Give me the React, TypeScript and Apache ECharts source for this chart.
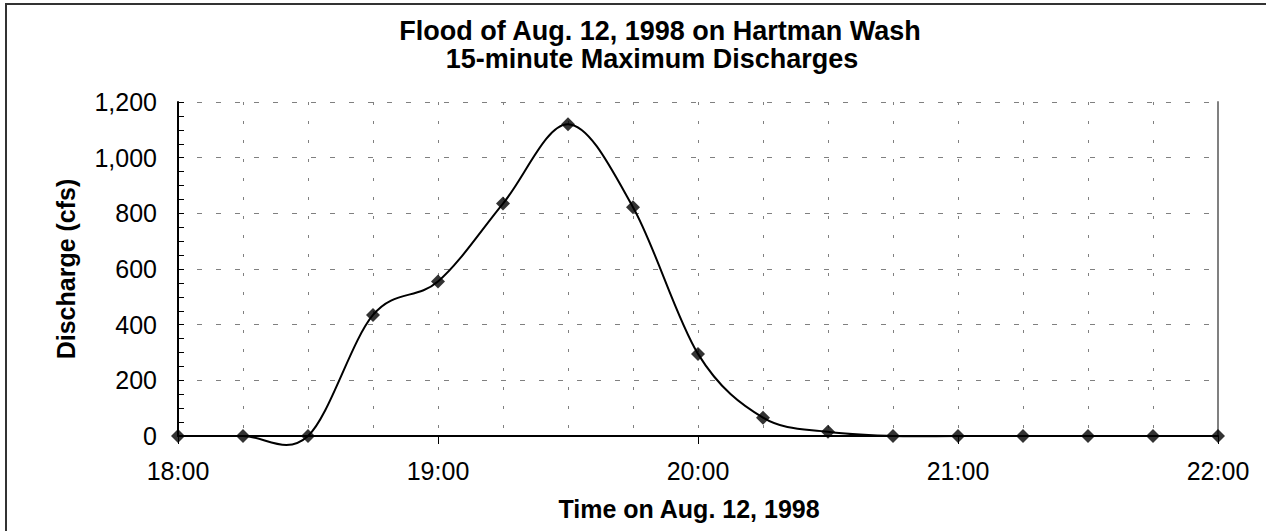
import React, { useEffect, useRef } from "react";
import * as echarts from "echarts";

const titleLines = ["Flood of Aug. 12, 1998 on Hartman Wash", "15-minute Maximum Discharges"];
const xAxisTitle = "Time on Aug. 12, 1998";
const yAxisTitle = "Discharge (cfs)";
const times = ["18:00", "18:15", "18:30", "18:45", "19:00", "19:15", "19:30", "19:45", "20:00", "20:15", "20:30", "20:45", "21:00", "21:15", "21:30", "21:45", "22:00"];
const discharge = [0, 0, 0, 435, 555, 835, 1120, 822, 295, 66, 15, 0, 0, 0, 0, 0, 0];
const yTicks = { min: 0, max: 1200, interval: 200 };
const startHour = 18;
const endHour = 22;

const FONT = "'Liberation Sans', Arial, sans-serif";

function toMinutes(t: string): number {
  const [h, m] = t.split(":").map(Number);
  return (h - startHour) * 60 + m;
}

export default function App() {
  const ref = useRef<HTMLDivElement>(null);
  useEffect(() => {
    if (!ref.current) return;
    const chart = echarts.init(ref.current, null, { renderer: "svg" });
    const pts = times.map((t, i) => [toMinutes(t), discharge[i]]);

    const renderCurve = (params: any, api: any) => {
      if (params.dataIndex !== 0) return null;
      const p = pts.map((d) => api.coord(d));
      const n = p.length;
      let d = `M${p[0][0]},${p[0][1]}`;
      for (let i = 0; i < n - 1; i++) {
        const p0 = p[Math.max(i - 1, 0)];
        const p1 = p[i];
        const p2 = p[i + 1];
        const p3 = p[Math.min(i + 2, n - 1)];
        const c1x = p1[0] + (p2[0] - p0[0]) / 6;
        const c1y = p1[1] + (p2[1] - p0[1]) / 6;
        const c2x = p2[0] - (p3[0] - p1[0]) / 6;
        const c2y = p2[1] - (p3[1] - p1[1]) / 6;
        d += ` C${c1x},${c1y} ${c2x},${c2y} ${p2[0]},${p2[1]}`;
      }
      return {
        type: "path",
        shape: { pathData: d },
        style: { stroke: "#000", lineWidth: 2, fill: null },
        silent: true,
      };
    };

    const titleStyle = { fontFamily: FONT, fontSize: 27, fontWeight: "bold", color: "#000", lineHeight: 27 };

    chart.setOption({
      animation: false,
      backgroundColor: "#fff",
      title: [
        { text: titleLines[0], left: 660, top: 17, textAlign: "center", padding: 0, textStyle: titleStyle },
        { text: titleLines[1], left: 652, top: 45, textAlign: "center", padding: 0, textStyle: titleStyle },
      ],
      grid: { left: 178, right: 48, top: 102, bottom: 95, containLabel: false },
      xAxis: {
        type: "value",
        min: 0,
        max: (endHour - startHour) * 60,
        interval: 60,
        name: xAxisTitle,
        nameLocation: "middle",
        nameGap: 60,
        nameTextStyle: { fontFamily: FONT, fontSize: 25, fontWeight: "bold", color: "#000", padding: [0, 18, 0, 0] },
        axisLine: { onZero: false, lineStyle: { color: "#000", width: 2 } },
        axisTick: { show: true, length: 8, lineStyle: { color: "#000", width: 1 } },
        axisLabel: {
          margin: 22,
          fontFamily: FONT,
          fontSize: 25,
          color: "#000",
          formatter: (v: number) => `${startHour + v / 60}:00`,
        },
        splitLine: { show: true, lineStyle: { color: "#808080", width: 1, type: [3, 16] } },
        minorTick: { show: false, splitNumber: 4 },
        minorSplitLine: { show: true, lineStyle: { color: "#808080", width: 1, type: [3, 16] } },
      },
      yAxis: [
        {
          type: "value",
          min: yTicks.min,
          max: yTicks.max,
          interval: yTicks.interval,
          name: yAxisTitle,
          nameLocation: "middle",
          nameGap: 100,
          nameRotate: 90,
          nameTextStyle: { fontFamily: FONT, fontSize: 25, fontWeight: "bold", color: "#000" },
          axisLine: { show: true, lineStyle: { color: "#000", width: 2 } },
          axisTick: { show: true, inside: true, length: 6, lineStyle: { color: "#000" } },
          minorTick: { show: true, splitNumber: 4, length: 6, lineStyle: { color: "#000" } },
          axisLabel: {
            margin: 21,
            fontFamily: FONT,
            fontSize: 25,
            color: "#000",
            formatter: (v: number) => v.toLocaleString("en-US"),
          },
          splitLine: { show: true, lineStyle: { color: "#808080", width: 1, type: [5, 14] } },
        },
        {
          type: "value",
          position: "right",
          min: yTicks.min,
          max: yTicks.max,
          interval: yTicks.interval,
          axisLine: { show: true, lineStyle: { color: "#808080", width: 2 } },
          axisTick: { show: false },
          axisLabel: { show: false },
          splitLine: { show: false },
        },
      ],
      graphic: [
        {
          type: "rect",
          shape: { x: 6, y: 4, width: 1400, height: 700 },
          style: { fill: null, stroke: "#333", lineWidth: 2 },
          silent: true,
          z: 100,
        },
      ],
      series: [
        {
          type: "custom",
          data: pts,
          renderItem: renderCurve,
          clip: false,
          z: 3,
          silent: true,
        },
        {
          type: "scatter",
          data: pts,
          symbol: "diamond",
          symbolSize: 14,
          itemStyle: { color: "#000" },
          clip: false,
          z: 4,
        },
      ],
    });
    return () => chart.dispose();
  }, []);
  return (
    <div
      ref={ref}
      style={{ position: "fixed", left: 0, top: 0, width: 1266, height: 531, background: "#fff" }}
    />
  );
}
